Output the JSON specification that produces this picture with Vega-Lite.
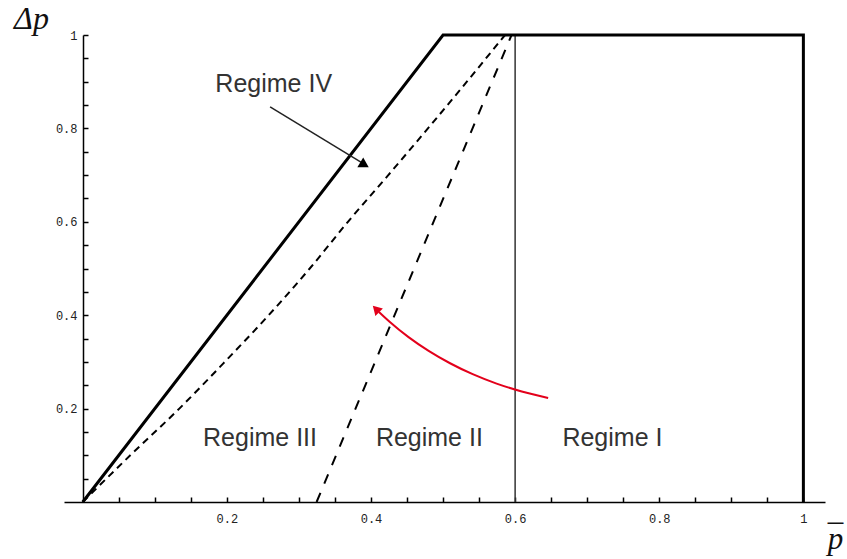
{
  "$schema": "https://vega.github.io/schema/vega-lite/v6.json",
  "width": 761,
  "height": 467,
  "autosize": {"type": "none"},
  "padding": {"left": 64, "top": 35, "right": 22, "bottom": 57},
  "background": "white",
  "config": {"view": {"stroke": null}},
  "datasets": {
    "boundary": [{"x": 0, "y": 0, "o": 1}, {"x": 0.5, "y": 1, "o": 2}, {"x": 1, "y": 1, "o": 3}, {"x": 1, "y": 0, "o": 4}],
    "curve": [
      {"x": 0, "y": 0}, {"x": 0.066, "y": 0.1}, {"x": 0.134, "y": 0.2}, {"x": 0.197, "y": 0.3},
      {"x": 0.258, "y": 0.4}, {"x": 0.315, "y": 0.5}, {"x": 0.368, "y": 0.6}, {"x": 0.424, "y": 0.7},
      {"x": 0.479, "y": 0.8}, {"x": 0.533, "y": 0.9}, {"x": 0.586, "y": 1.0}
    ],
    "steep": [{"x": 0.3245, "y": 0}, {"x": 0.595, "y": 1}],
    "vline": [{"x": 0.6, "y": 0}, {"x": 0.6, "y": 1}],
    "blackArrow": [{"x": 0.26, "y": 0.846, "o": 1}, {"x": 0.39, "y": 0.724, "o": 2}],
    "blackHead": [{"x": 0.391, "y": 0.722}],
    "redArrow": [
      {"x": 0.6458, "y": 0.2227, "o": 1}, {"x": 0.6092, "y": 0.2366, "o": 2}, {"x": 0.5743, "y": 0.2535, "o": 3},
      {"x": 0.5411, "y": 0.2737, "o": 4}, {"x": 0.5097, "y": 0.2971, "o": 5}, {"x": 0.48, "y": 0.3236, "o": 6},
      {"x": 0.4521, "y": 0.3531, "o": 7}, {"x": 0.4258, "y": 0.3861, "o": 8}, {"x": 0.411, "y": 0.4071, "o": 9}
    ],
    "redHead": [{"x": 0.4069, "y": 0.4133}],
    "labels": [
      {"x": 0.265, "y": 0.878, "t": "Regime IV"},
      {"x": 0.246, "y": 0.12, "t": "Regime III"},
      {"x": 0.481, "y": 0.12, "t": "Regime II"},
      {"x": 0.735, "y": 0.12, "t": "Regime I"}
    ]
  },
  "encoding": {
    "x": {
      "field": "x", "type": "quantitative",
      "scale": {"domain": [-0.026, 1.03], "nice": false, "zero": false},
      "axis": {
        "values": [0.05, 0.1, 0.15, 0.2, 0.25, 0.3, 0.35, 0.4, 0.45, 0.5, 0.55, 0.6, 0.65, 0.7, 0.75, 0.8, 0.85, 0.9, 0.95, 1],
        "labelExpr": "abs(datum.value*5 - round(datum.value*5)) < 0.001 ? format(datum.value, '.1~f') : ''",
        "grid": false,
        "tickSize": -5, "tickColor": "black", "tickWidth": 1.5,
        "domainColor": "black", "domainWidth": 1.5,
        "labelFont": "Liberation Mono", "labelFontSize": 12, "labelColor": "#222", "labelPadding": 16,
        "labelFlush": false, "labelOverlap": false,
        "title": ["_", "p"],
        "titleFont": "Liberation Serif", "titleFontStyle": "italic", "titleFontWeight": "normal", "titleFontSize": 31,
        "titleColor": "#111", "titleX": 771, "titleY": 17, "titleAlign": "center", "titleBaseline": "alphabetic", "titleLineHeight": 29
      }
    },
    "y": {
      "field": "y", "type": "quantitative",
      "scale": {"domain": [0, 1], "nice": false, "zero": false},
      "axis": {
        "offset": -19,
        "values": [0.05, 0.1, 0.15, 0.2, 0.25, 0.3, 0.35, 0.4, 0.45, 0.5, 0.55, 0.6, 0.65, 0.7, 0.75, 0.8, 0.85, 0.9, 0.95, 1],
        "labelExpr": "abs(datum.value*5 - round(datum.value*5)) < 0.001 ? format(datum.value, '.1~f') : ''",
        "grid": false,
        "tickSize": -5, "tickColor": "black", "tickWidth": 1.5,
        "domainColor": "black", "domainWidth": 1.5,
        "labelFont": "Liberation Mono", "labelFontSize": 12, "labelColor": "#222", "labelPadding": 11,
        "labelFlush": false, "labelOverlap": false,
        "title": "Δp",
        "titleFont": "Liberation Serif", "titleFontStyle": "italic", "titleFontWeight": "normal", "titleFontSize": 32,
        "titleColor": "#111", "titleAngle": 0, "titleX": -52, "titleY": -7, "titleAlign": "center", "titleBaseline": "alphabetic"
      }
    }
  },
  "layer": [
    {"data": {"name": "vline"}, "mark": {"type": "line", "color": "#333", "strokeWidth": 1.5}},
    {"data": {"name": "curve"}, "mark": {"type": "line", "color": "black", "strokeWidth": 2, "strokeDash": [7, 5], "interpolate": "monotone"}},
    {"data": {"name": "steep"}, "mark": {"type": "line", "color": "black", "strokeWidth": 2, "strokeDash": [10, 10]}},
    {"data": {"name": "boundary"}, "mark": {"type": "line", "color": "black", "strokeWidth": 3, "strokeJoin": "miter"}, "encoding": {"order": {"field": "o"}}},
    {"data": {"name": "blackArrow"}, "mark": {"type": "line", "color": "#222", "strokeWidth": 1.5}, "encoding": {"order": {"field": "o"}}},
    {"data": {"name": "blackHead"}, "mark": {"type": "point", "shape": "triangle-up", "filled": true, "color": "black", "size": 130, "angle": 121, "opacity": 1}},
    {"data": {"name": "redArrow"}, "mark": {"type": "line", "color": "#e3001b", "strokeWidth": 2, "interpolate": "monotone"}, "encoding": {"order": {"field": "o"}}},
    {"data": {"name": "redHead"}, "mark": {"type": "point", "shape": "triangle-up", "filled": true, "color": "#e3001b", "size": 110, "angle": 316, "opacity": 1}},
    {"data": {"name": "labels"}, "mark": {"type": "text", "font": "Liberation Sans", "fontSize": 25, "color": "#333", "align": "center", "baseline": "alphabetic"}, "encoding": {"text": {"field": "t"}}}
  ]
}
